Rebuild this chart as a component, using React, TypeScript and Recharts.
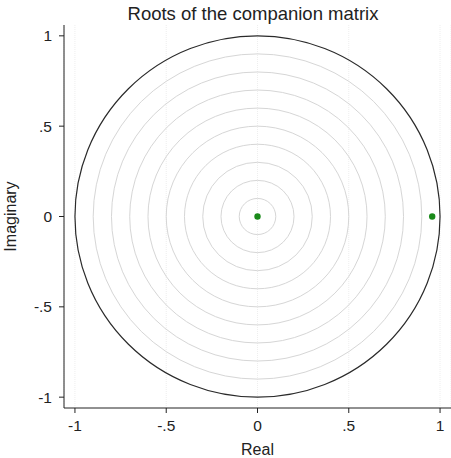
import React from 'react';
import * as R from 'recharts';

const { ScatterChart, Scatter, XAxis, YAxis, CartesianGrid, Customized } = R as any;

// Data: roots of the companion matrix
const rootReal = [0, 0.957];
const rootImag = [0, 0];

// Reference rings (radii in data units)
const gridRadii = [0.1, 0.2, 0.3, 0.4, 0.5, 0.6, 0.7, 0.8, 0.9];
const unitRadii = [1];

// Ticks
const xTicks = [-1, -0.5, 0, 0.5, 1];
const yTicks = [-1, -0.5, 0, 0.5, 1];
const tickLabels: Record<string, string> = { '-1': '-1', '-0.5': '-.5', '0': '0', '0.5': '.5', '1': '1' };

const X_DOMAIN = [-1.06, 1.06];
const Y_DOMAIN = [-1.06, 1.06];

const roots = rootReal.map((re, i) => ({ re, im: rootImag[i] }));

const FONT = 'Liberation Sans, Arial, Helvetica, sans-serif';
const fmt = (v: number) => tickLabels[String(v)] ?? String(v);

function useScales() {
  const anyR = R as any;
  const plot = anyR.usePlotArea ? anyR.usePlotArea() : null;
  const offset = !plot && anyR.useOffset ? anyR.useOffset() : null;
  const cw = !plot && anyR.useChartWidth ? anyR.useChartWidth() : 0;
  const ch = !plot && anyR.useChartHeight ? anyR.useChartHeight() : 0;
  let area = plot;
  if (!area && offset) {
    area = { x: offset.left, y: offset.top, width: cw - offset.left - offset.right, height: ch - offset.top - offset.bottom };
  }
  if (!area) return null;
  const sx = (v: number) => area.x + ((v - X_DOMAIN[0]) / (X_DOMAIN[1] - X_DOMAIN[0])) * area.width;
  const sy = (v: number) => area.y + area.height - ((v - Y_DOMAIN[0]) / (Y_DOMAIN[1] - Y_DOMAIN[0])) * area.height;
  return { sx, sy };
}

function Rings() {
  const s = useScales();
  if (!s) return null;
  const { sx, sy } = s;
  const cx = sx(0);
  const cy = sy(0);
  return (
    <g>
      {gridRadii.map((r) => (
        <ellipse key={'g' + r} cx={cx} cy={cy} rx={sx(r) - cx} ry={cy - sy(r)} fill="none" stroke="#d6d6d6" strokeWidth={1} />
      ))}
      {unitRadii.map((r) => (
        <ellipse key={'u' + r} cx={cx} cy={cy} rx={sx(r) - cx} ry={cy - sy(r)} fill="none" stroke="#2a2a2a" strokeWidth={1.2} />
      ))}
    </g>
  );
}

const YLabel = (props: any) => {
  const vb = props.viewBox || {};
  const cy = (vb.y ?? 0) + (vb.height ?? 0) / 2;
  const x = 16;
  return (
    <text x={x} y={cy} transform={`rotate(-90, ${x}, ${cy})`} textAnchor="middle" fontFamily={FONT} fontSize={16} fill="#222">
      Imaginary
    </text>
  );
};

export default function App() {
  return (
    <div style={{ position: 'absolute', left: 0, top: 0, width: 451, height: 458, background: '#fff' }}>
      <ScatterChart width={451} height={458} margin={{ top: 25, right: 0, bottom: 0, left: 0 }}>
        <text x={253} y={20} textAnchor="middle" fontFamily={FONT} fontSize={18.5} fill="#222">
          Roots of the companion matrix
        </text>
        <CartesianGrid horizontal={false} vertical={true} stroke="#eeeeee" strokeDasharray="1 1" />
        <XAxis
          type="number"
          dataKey="re"
          domain={X_DOMAIN}
          ticks={xTicks}
          tickFormatter={fmt}
          allowDataOverflow
          height={50}
          tickSize={5}
          tickMargin={7}
          stroke="#222"
          tick={{ fontFamily: FONT, fontSize: 15.5, fill: '#222' }}
          label={{ value: 'Real', position: 'insideBottom', offset: 3, fontFamily: FONT, fontSize: 16, fill: '#222' }}
        />
        <YAxis
          type="number"
          dataKey="im"
          domain={Y_DOMAIN}
          ticks={yTicks}
          tickFormatter={fmt}
          allowDataOverflow
          width={64}
          tickSize={5}
          tickMargin={7}
          stroke="#222"
          tick={{ fontFamily: FONT, fontSize: 15.5, fill: '#222' }}
          label={{ content: YLabel }}
        />
        <Customized component={<Rings />} />
        <Scatter data={roots} fill="#1a8a1a" isAnimationActive={false} shape={(p: any) => <circle cx={p.cx} cy={p.cy} r={3.2} fill="#1a8a1a" />} />
      </ScatterChart>
    </div>
  );
}
